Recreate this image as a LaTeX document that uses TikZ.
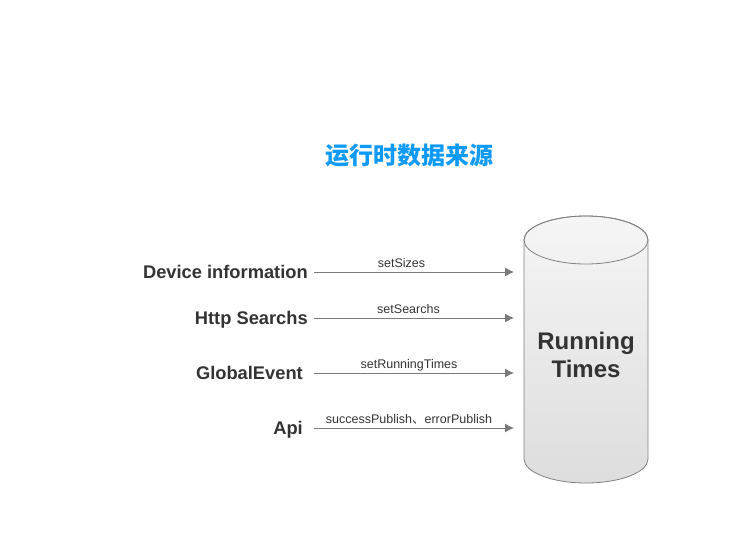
\documentclass[tikz,border=0pt]{standalone}
\usepackage{fontspec}
\setmainfont{Liberation Sans}
\newfontfamily\cjk{Noto Sans CJK SC}
\usetikzlibrary{arrows.meta}
\definecolor{titleblue}{HTML}{0F9AF7}
\definecolor{txtgray}{HTML}{333333}
\definecolor{arrowgray}{HTML}{7A7A7A}
\definecolor{cylline}{HTML}{808080}
\definecolor{cyltop}{HTML}{F5F5F5}
\definecolor{cylbot}{HTML}{DDDDDD}
\begin{document}
\begin{tikzpicture}[x=1pt,y=1pt,
  src/.style={anchor=base east, inner sep=0pt, text=txtgray, font=\fontsize{18.3}{20}\selectfont\bfseries},
  call/.style={anchor=base, inner sep=0pt, text=txtgray, font=\fontsize{12.5}{14}\selectfont},
  flow/.style={-{Latex[length=9pt,width=9pt]}, draw=arrowgray, fill=arrowgray, line width=1pt}]
\useasboundingbox (0,0) rectangle (731,542);
\def\rx{62pt}
\def\ry{24pt}

%%%%%%%%%%%%%-------------title
\node[text=titleblue, font=\cjk\bfseries\fontsize{24}{26}\selectfont] (title) at (409,386) {运行时数据来源};

%%%%%%%%%%%%%-------------cylinder
\shade[top color=cyltop, bottom color=cylbot, draw=cylline, line width=.8pt]
  (524,302) -- (524,83) arc[start angle=180, end angle=360, x radius=\rx, y radius=\ry]
  -- (648,302) arc[start angle=0, end angle=180, x radius=\rx, y radius=\ry] -- cycle;
\draw[cylline, line width=.8pt] (586,302) ellipse[x radius=\rx, y radius=\ry];
\node[align=center, text=txtgray, font=\fontsize{24}{28}\selectfont\bfseries] (store) at (586,187) {Running\\Times};

%%%%%%%%%%%%%-------------sources and calls
\foreach \n/\y/\xe/\xc/\txt/\fn in {dev/270/308/401.5/Device information/setSizes,
  http/224/308/408.5/Http Searchs/setSearchs,
  event/169/303/409/GlobalEvent/setRunningTimes,
  api/114/303/409/Api/{successPublish{\cjk 、}errorPublish}}{
\node[src] (\n) at (\xe,\y-6.5) {\txt};
\coordinate (\n-s) at (314,\y);
\coordinate (\n-t) at (514,\y);
\draw[flow] (\n-s) -- (\n-t);
\node[call] (\n-fn) at (\xc,\y+5) {\fn};
}

\end{tikzpicture}
\end{document}
